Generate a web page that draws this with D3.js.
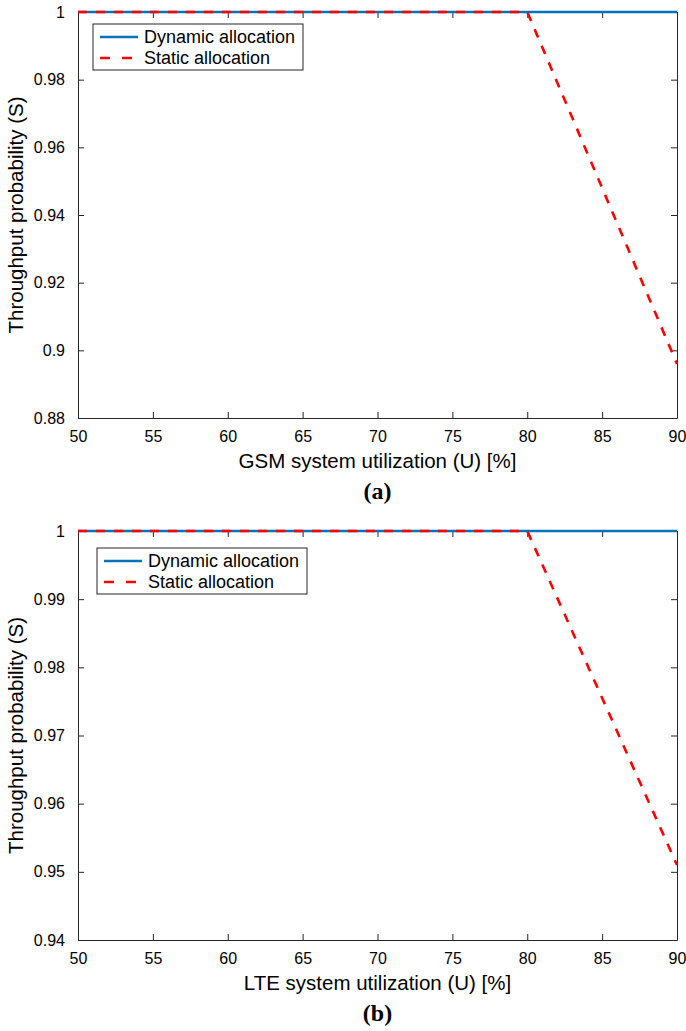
<!DOCTYPE html>
<html>
<head>
<meta charset="utf-8">
<script src="https://cdn.jsdelivr.net/npm/d3@7"></script>
<style>
  body { margin: 0; background: #fff; }
  svg { display: block; }
</style>
</head>
<body>
<svg id="chart" width="686" height="1031"></svg>
<script>
// data
const utilization = [50, 55, 60, 65, 70, 75, 80, 85, 90]
const gsmDynamic = [1, 1, 1, 1, 1, 1, 1, 1, 1]
const gsmStatic = [1, 1, 1, 1, 1, 1, 1, 0.948, 0.896]
const lteDynamic = [1, 1, 1, 1, 1, 1, 1, 1, 1]
const lteStatic = [1, 1, 1, 1, 1, 1, 1, 0.9755, 0.951]

const xTicks = [50, 55, 60, 65, 70, 75, 80, 85, 90]
const gsmYTicks = [0.88, 0.9, 0.92, 0.94, 0.96, 0.98, 1]
const lteYTicks = [0.94, 0.95, 0.96, 0.97, 0.98, 0.99, 1]
const seriesNames = ["Dynamic allocation", "Static allocation"]

const svg = d3.select("#chart")
const font = "Liberation Sans, Arial, sans-serif"
const axisColor = "#262626"
const blue = "#0072BD", red = "#FF0000"

function drawPanel(p) {
  const x = d3.scaleLinear().domain([50, 90]).range([78, 677])
  const y = d3.scaleLinear().domain(p.yDomain).range([p.bottom, p.top])
  const g = svg.append("g")

  // axes, ticks pointing inward like matlab
  const fmt = d3.format("~g")
  const styleAxis = sel => {
    sel.selectAll("path, line").attr("stroke", axisColor).attr("stroke-width", 1)
    sel.selectAll("text").attr("fill", "#000").attr("font-family", font).attr("font-size", 16)
  }
  g.append("g").attr("transform", `translate(0,${p.bottom})`)
    .call(d3.axisBottom(x).tickValues(xTicks).tickSizeInner(-6).tickSizeOuter(0).tickPadding(13).tickFormat(fmt))
    .call(styleAxis)
  g.append("g").attr("transform", `translate(0,${p.top})`)
    .call(d3.axisTop(x).tickValues(xTicks).tickSizeInner(-6).tickSizeOuter(0).tickFormat(""))
    .call(styleAxis)
  g.append("g").attr("transform", "translate(78,0)")
    .call(d3.axisLeft(y).tickValues(p.yTicks).tickSizeInner(-6).tickSizeOuter(0).tickPadding(13).tickFormat(fmt))
    .call(styleAxis)
  g.append("g").attr("transform", "translate(677,0)")
    .call(d3.axisRight(y).tickValues(p.yTicks).tickSizeInner(-6).tickSizeOuter(0).tickFormat(""))
    .call(styleAxis)

  const line = d3.line().x((d, i) => x(utilization[i])).y(d => y(d))

  g.append("path").datum(p.dynamic)
    .attr("fill", "none").attr("stroke", blue).attr("stroke-width", 2.6)
    .attr("d", line)
  g.append("path").datum(p.static)
    .attr("fill", "none").attr("stroke", red).attr("stroke-width", 2.6)
    .attr("stroke-dasharray", "9,9")
    .attr("d", line)

  // axis titles
  g.append("text")
    .attr("x", (78 + 677) / 2).attr("y", p.bottom + 50)
    .attr("text-anchor", "middle").attr("font-family", font).attr("font-size", 20.5)
    .text(p.xLabel)
  g.append("text")
    .attr("transform", `translate(23,${(p.top + p.bottom) / 2}) rotate(-90)`)
    .attr("text-anchor", "middle").attr("font-family", font).attr("font-size", 20.5)
    .text("Throughput probability (S)")
  g.append("text")
    .attr("x", (78 + 677) / 2).attr("y", p.bottom + 81)
    .attr("text-anchor", "middle").attr("font-family", "Liberation Serif, Times New Roman, serif")
    .attr("font-weight", "bold").attr("font-size", 24)
    .text(p.caption)

  // legend
  const lg = g.append("g").attr("transform", `translate(${p.legendX},${p.legendY})`)
  lg.append("rect").attr("width", 210).attr("height", 46)
    .attr("fill", "#fff").attr("stroke", axisColor).attr("stroke-width", 1)
  seriesNames.forEach((name, i) => {
    const cy = 13 + i * 21
    lg.append("line").attr("x1", 7).attr("x2", 45).attr("y1", cy).attr("y2", cy)
      .attr("stroke", i === 0 ? blue : red).attr("stroke-width", 2.6)
      .attr("stroke-dasharray", i === 0 ? null : "10,12")
    lg.append("text").attr("x", 51).attr("y", cy + 5.5)
      .attr("font-family", font).attr("font-size", 18)
      .text(name)
  })
}

drawPanel({
  top: 12, bottom: 418, yDomain: [0.88, 1], yTicks: gsmYTicks,
  dynamic: gsmDynamic, static: gsmStatic,
  xLabel: "GSM system utilization (U) [%]", caption: "(a)",
  legendX: 93, legendY: 24
})
drawPanel({
  top: 531, bottom: 940, yDomain: [0.94, 1], yTicks: lteYTicks,
  dynamic: lteDynamic, static: lteStatic,
  xLabel: "LTE system utilization (U) [%]", caption: "(b)",
  legendX: 97, legendY: 548
})
</script>
</body>
</html>
